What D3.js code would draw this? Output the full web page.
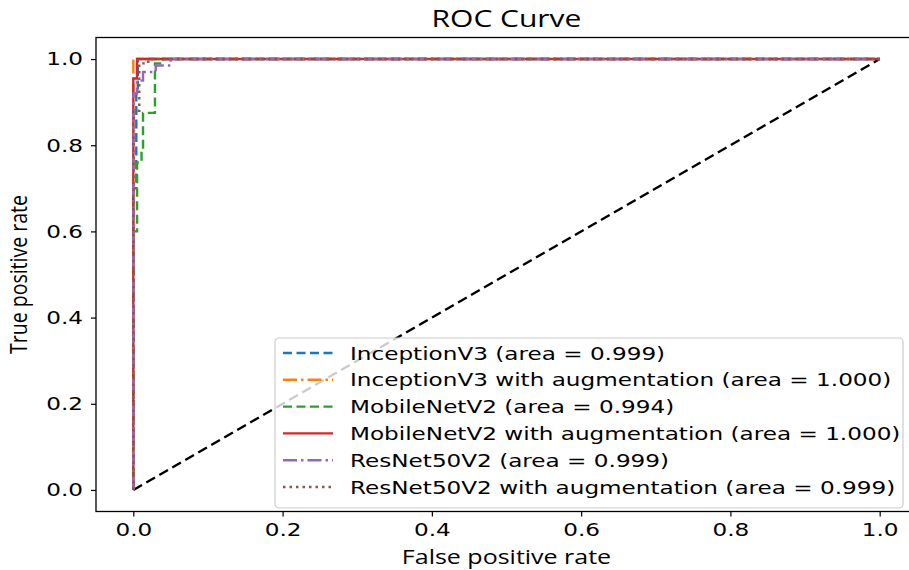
<!DOCTYPE html>
<html>
<head>
<meta charset="utf-8">
<script src="https://cdn.jsdelivr.net/npm/d3@7/dist/d3.min.js"></script>
<style>
  body { margin: 0; background: #fff; }
  svg { display: block; }
</style>
</head>
<body>
<div id="chart"></div>
<script>
// ROC curve data (fpr / tpr step points)
const inceptionFpr    = [0, 0,   0.004, 0.004, 0.006, 0.006, 1];
const inceptionTpr    = [0, 0.70, 0.70, 0.92,  0.92,  1.0,   1];
const inceptionAugFpr = [0, 0, 1];
const inceptionAugTpr = [0, 1, 1];
const mobileFpr       = [0, 0,   0.005, 0.005, 0.011, 0.011, 0.013, 0.013, 0.029, 0.029, 0.04, 0.04, 1];
const mobileTpr       = [0, 0.60, 0.60, 0.76,  0.76,  0.79,  0.79,  0.875, 0.875, 0.99,  0.99, 1.0,  1];
const mobileAugFpr    = [0, 0,    0.005, 0.005, 1];
const mobileAugTpr    = [0, 0.955, 0.955, 1.0,  1];
const resnetFpr       = [0, 0,    0.005, 0.005, 0.013, 0.013, 0.03, 0.03, 0.05, 0.05, 1];
const resnetTpr       = [0, 0.92, 0.92,  0.95,  0.95,  0.97,  0.97, 0.985, 0.985, 1.0, 1];
const resnetAugFpr    = [0, 0,    0.008, 0.008, 0.02, 0.02, 1];
const resnetAugTpr    = [0, 0.88, 0.88,  0.99,  0.99, 1.0,  1];

const seriesLabels = [
  "InceptionV3 (area = 0.999)",
  "InceptionV3 with augmentation (area = 1.000)",
  "MobileNetV2 (area = 0.994)",
  "MobileNetV2 with augmentation (area = 1.000)",
  "ResNet50V2 (area = 0.999)",
  "ResNet50V2 with augmentation (area = 0.999)"
];
const seriesFpr = [inceptionFpr, inceptionAugFpr, mobileFpr, mobileAugFpr, resnetFpr, resnetAugFpr];
const seriesTpr = [inceptionTpr, inceptionAugTpr, mobileTpr, mobileAugTpr, resnetTpr, resnetAugTpr];
const seriesColors = ["#1f77b4", "#ff7f0e", "#2ca02c", "#d62728", "#9467bd", "#8c564b"];
const seriesDash = ["9,4.5", "14,4,2.5,4", "9,4.5", null, "14,4,2.5,4", "2.5,4"];

const chanceLine = [0, 1];
const tickValues = [0, 0.2, 0.4, 0.6, 0.8, 1.0];

const width = 909, height = 570;
const SX = 1.25; // picture is stretched sideways, text too

const svg = d3.select("#chart").append("svg")
  .attr("width", width)
  .attr("height", height);

const x = d3.scaleLinear().domain([-0.05, 1.05]).range([96, 917]);
const y = d3.scaleLinear().domain([-0.05, 1.05]).range([511.5, 37.5]);

// chance diagonal
svg.append("line")
  .attr("x1", x(chanceLine[0])).attr("y1", y(chanceLine[0]))
  .attr("x2", x(chanceLine[1])).attr("y2", y(chanceLine[1]))
  .attr("stroke", "#000")
  .attr("stroke-width", 2.4)
  .attr("stroke-dasharray", "10,5");

// curves
const line = d3.line().x(d => x(d[0])).y(d => y(d[1]));
seriesLabels.forEach((lab, i) => {
  const pts = seriesFpr[i].map((f, j) => [f, seriesTpr[i][j]]);
  svg.append("path")
    .attr("d", line(pts))
    .attr("fill", "none")
    .attr("stroke", seriesColors[i])
    .attr("stroke-width", 2.4)
    .attr("stroke-dasharray", seriesDash[i]);
});

// frame (right spine falls outside the picture)
svg.append("rect")
  .attr("x", x.range()[0]).attr("y", y.range()[1])
  .attr("width", x.range()[1] - x.range()[0])
  .attr("height", y.range()[0] - y.range()[1])
  .attr("fill", "none")
  .attr("stroke", "#000")
  .attr("stroke-width", 1.3);

// axes
const fmt = d3.format(".1f");
const xAxis = svg.append("g")
  .attr("transform", `translate(0,${y.range()[0]})`)
  .call(d3.axisBottom(x).tickValues(tickValues).tickFormat(fmt).tickSize(5).tickSizeOuter(0).tickPadding(6));
const yAxis = svg.append("g")
  .attr("transform", `translate(${x.range()[0]},0)`)
  .call(d3.axisLeft(y).tickValues(tickValues).tickFormat(fmt).tickSize(5).tickSizeOuter(0).tickPadding(7));

[xAxis, yAxis].forEach(ax => {
  ax.select(".domain").remove();
  ax.selectAll(".tick line").attr("stroke", "#000").attr("stroke-width", 1.2);
  ax.selectAll(".tick text")
    .attr("fill", "#000")
    .style("font-family", "DejaVu Sans")
    .style("font-size", "18.5px");
});
xAxis.selectAll(".tick text").attr("transform", `scale(${SX},1)`);
yAxis.selectAll(".tick text").attr("transform", `scale(${SX},1)`)
  .attr("x", -13 / SX);

// title and axis labels
svg.append("text")
  .attr("transform", `translate(${(x.range()[0] + x.range()[1]) / 2},27) scale(${SX},1)`)
  .attr("text-anchor", "middle")
  .style("font-family", "Open Sans")
  .style("font-size", "24px")
  .text("ROC Curve");

svg.append("text")
  .attr("transform", `translate(${(x.range()[0] + x.range()[1]) / 2},564) scale(${SX},1)`)
  .attr("text-anchor", "middle")
  .style("font-family", "Open Sans")
  .style("font-size", "20px")
  .text("False positive rate");

svg.append("text")
  .attr("transform", `translate(27,${(y.range()[0] + y.range()[1]) / 2}) scale(${SX},1) rotate(-90)`)
  .attr("text-anchor", "middle")
  .style("font-family", "Open Sans")
  .style("font-size", "19.5px")
  .text("True positive rate");

// legend
const legend = svg.append("g").attr("transform", "translate(275,338)");
legend.append("rect")
  .attr("width", 628).attr("height", 170)
  .attr("rx", 4)
  .attr("fill", "#fff").attr("fill-opacity", 0.8)
  .attr("stroke", "#cccccc").attr("stroke-width", 1.2);

const rows = legend.selectAll(".row")
  .data(seriesLabels)
  .enter().append("g")
  .attr("transform", (d, i) => `translate(0,${15 + i * 26.8})`);

rows.append("line")
  .attr("x1", 8).attr("x2", 58)
  .attr("stroke", (d, i) => seriesColors[i])
  .attr("stroke-width", 2.4)
  .attr("stroke-dasharray", (d, i) => seriesDash[i]);

rows.append("text")
  .attr("transform", `translate(75,6.5) scale(${SX},1)`)
  .style("font-family", "DejaVu Sans")
  .style("font-size", "18.5px")
  .text(d => d);
</script>
</body>
</html>
